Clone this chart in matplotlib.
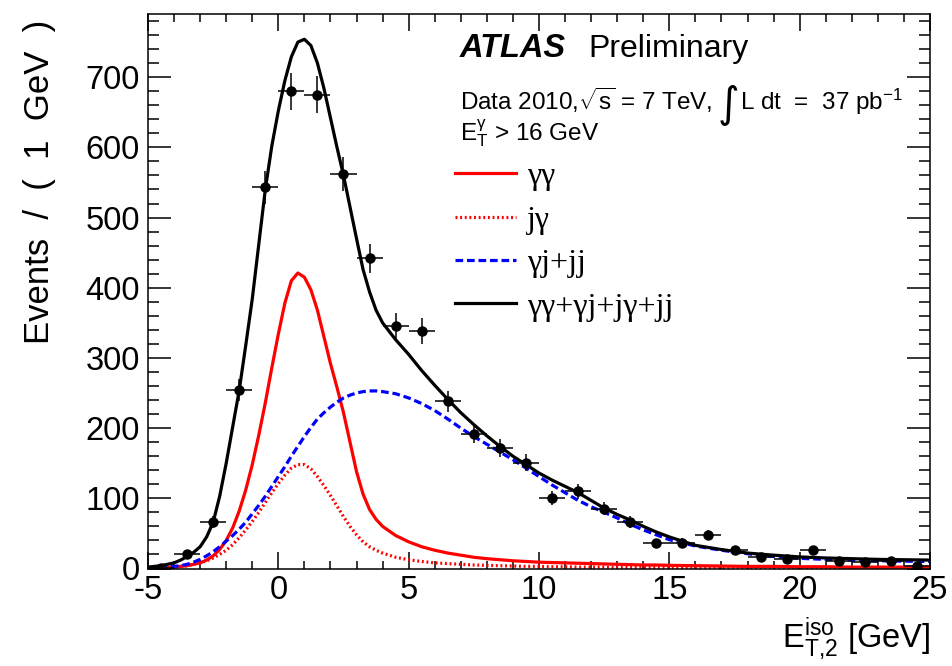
import numpy as np
import matplotlib
matplotlib.use("Agg")
import matplotlib.pyplot as plt

plt.rcParams['font.family'] = ['Liberation Sans', 'DejaVu Sans']
plt.rcParams['mathtext.fontset'] = 'custom'
plt.rcParams['mathtext.rm'] = 'Liberation Sans'
plt.rcParams['mathtext.it'] = 'Liberation Sans:italic'
plt.rcParams['axes.unicode_minus'] = False

# data points (1 GeV bins)
bin_centers = [-4.5, -3.5, -2.5, -1.5, -0.5, 0.5, 1.5, 2.5, 3.5, 4.5,
               5.5, 6.5, 7.5, 8.5, 9.5, 10.5, 11.5, 12.5, 13.5, 14.5,
               15.5, 16.5, 17.5, 18.5, 19.5, 20.5, 21.5, 22.5, 23.5, 24.5]
counts = [1, 21, 66, 254, 543, 680, 675, 562, 442, 345,
          338, 238, 192, 172, 151, 100, 110, 85, 66, 36,
          37, 48, 27, 16, 13, 26, 11, 9, 11, 3]

# fit curves
x_fit = [-5, -4.75, -4.5, -4.25, -4, -3.75, -3.5, -3.25, -3, -2.75, -2.5, -2.25,
         -2, -1.75, -1.5, -1.25, -1, -0.75, -0.5, -0.25, 0, 0.25, 0.5, 0.75,
         1, 1.25, 1.5, 1.75, 2, 2.25, 2.5, 2.75, 3, 3.25, 3.5, 3.75, 4,
         4.5, 5, 5.5, 6, 6.5, 7, 7.5, 8, 8.5, 9, 9.5, 10, 10.5, 11, 11.5,
         12, 12.5, 13, 13.5, 14, 14.5, 15,
         16, 17, 18, 19, 20, 21, 22, 23, 24, 25]
gg = [0.5, 0.7, 1, 1.5, 2, 3, 4, 6, 8, 12, 18, 27,
      40, 58, 82, 112, 148, 190, 236, 286, 334, 378, 410, 421,
      415, 397, 368, 330, 292, 258, 222, 180, 138, 106, 84, 70, 60,
      47, 38, 31, 26, 22, 19, 16, 14, 12.5, 11, 10, 9, 8.5, 8, 7.5,
      7, 6.5, 6, 5.5, 5, 5, 4.5,
      4, 3.5, 3, 3, 2.5, 2.5, 2, 2, 2, 2]
jg = [0.5, 0.7, 1, 1.5, 2, 3, 4, 6, 8, 11, 15, 20,
      26, 34, 44, 55, 67, 80, 94, 108, 121, 133, 143, 148,
      148, 142, 131, 118, 104, 89, 74, 60, 48, 38, 31, 26, 22,
      16, 12.5, 10, 8, 7, 6, 5, 4.5, 4, 3.5, 3, 3, 2.5, 2.5, 2,
      2, 2, 1.5, 1.5, 1.5, 1.2, 1.2,
      1, 1, 0.8, 0.8, 0.7, 0.7, 0.6, 0.6, 0.5, 0.5]
gj_jj = [0.5, 0.8, 1.2, 2, 3, 4, 6, 9, 13, 18, 24, 31,
         39, 47, 56, 66, 78, 90, 103, 117, 131, 145, 160, 174,
         188, 201, 213, 222, 230, 237, 243, 247, 250, 252, 253, 253, 252,
         249, 243, 235, 225, 213, 200, 188, 177, 166, 155, 143, 131, 119, 108, 97,
         88, 80, 72, 63, 55, 48, 41,
         32, 26, 21, 17, 14.5, 13, 12, 11, 10.5, 10]
total = [2, 3, 4, 6, 8, 12, 17, 23, 31, 45, 66, 103,
         150, 202, 254, 318, 384, 462, 540, 602, 652, 695, 729, 750,
         754, 745, 720, 684, 642, 600, 560, 515, 470, 426, 394, 368, 350,
         326, 305, 282, 261, 241, 222, 205, 189, 174, 160, 148, 136, 126, 117, 108,
         97, 86, 77, 69, 60, 52, 45,
         33, 27, 22, 19, 16.5, 15, 14, 13, 12.5, 12]

fig = plt.figure(figsize=(9.53, 6.66), dpi=100)
ax = fig.add_axes([148/953, 1-568.5/666, 782/953, 554.5/666])

ax.plot(x_fit, gg, color='#ff0000', lw=2.3, label='γγ')
ax.plot(x_fit, jg, color='#ff0000', lw=2.3, ls=(0, (0.6, 0.85)), label='jγ')
ax.plot(x_fit, gj_jj, color='#0000ff', lw=2.3, ls=(0, (2.4, 1.2)), label='γj+jj')
ax.plot(x_fit, total, color='black', lw=2.3, label='γγ+γj+jγ+jj')

ax.errorbar(bin_centers, counts, yerr=np.sqrt(counts), xerr=0.5, fmt='o',
            color='black', ms=6.5, lw=1.1, capsize=0, zorder=5)

ax.set_xlim(-5, 25)
ax.set_ylim(0, 790)
ax.set_xticks([-5, 0, 5, 10, 15, 20, 25])
ax.set_xticks(np.arange(-5, 25.1, 1), minor=True)
ax.set_yticks(np.arange(0, 701, 100))
ax.set_yticks(np.arange(0, 790, 20), minor=True)
ax.tick_params(which='both', direction='in', top=True, right=True, width=1.1)
ax.tick_params(axis='x', which='major', length=12, labelsize=23.5, pad=5)
ax.tick_params(axis='x', which='minor', length=6)
ax.tick_params(axis='y', which='major', length=16.5, labelsize=23.5, pad=6)
ax.tick_params(axis='y', which='minor', length=8)
for s in ax.spines.values():
    s.set_linewidth(1.1)

ax.set_ylabel('Events  /  (  1  GeV  )', fontsize=25, loc='top')
ax.yaxis.set_label_coords(-0.118, 0.99)
ax.set_xlabel(r'$\mathrm{E}_{\mathrm{T{,}2}}^{\mathrm{iso}}$ [GeV]', fontsize=23.5, loc='right')
ax.xaxis.set_label_coords(1.0, -0.085)

ax.text(0.399, 0.9225, 'ATLAS', transform=ax.transAxes, fontsize=23.5,
        fontweight='bold', fontstyle='italic', va='baseline')
ax.text(0.5627, 0.9225, 'Preliminary', transform=ax.transAxes, fontsize=23, va='baseline')
ax.text(0.399, 0.827, r'Data 2010,$\sqrt{\mathrm{s}}$ = 7 TeV,',
        transform=ax.transAxes, fontsize=17.5, va='baseline')
ax.text(0.729, 0.836, '∫', transform=ax.transAxes, fontsize=30, va='center',
        family=['DejaVu Sans'])
ax.text(0.757, 0.827, r'L dt  =  37 pb$^{\mathrm{-1}}$',
        transform=ax.transAxes, fontsize=17.5, va='baseline')
ax.text(0.399, 0.771, r'$\mathrm{E}_{\mathrm{T}}^{\mathrm{γ}}$ > 16 GeV',
        transform=ax.transAxes, fontsize=17.5, va='baseline')

ax.legend(loc='upper left', bbox_to_anchor=(0.3926, 0.733), frameon=False,
          prop={'family': 'Liberation Serif', 'size': 23}, handlelength=1.9,
          handletextpad=0.35, labelspacing=0.44, borderpad=0, borderaxespad=0)

fig.savefig('out.png', dpi=100)
